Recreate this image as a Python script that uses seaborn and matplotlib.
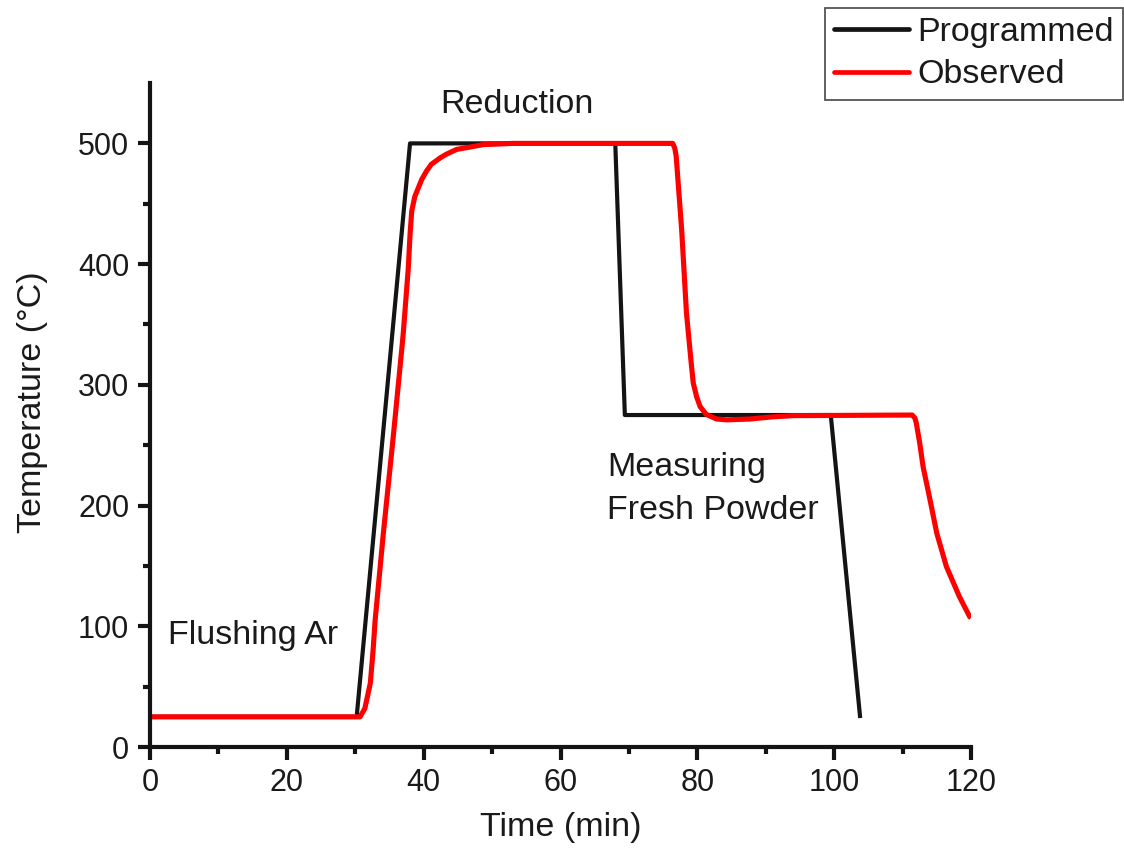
import matplotlib
matplotlib.use("Agg")
import matplotlib.pyplot as plt
import seaborn as sns
import pandas as pd

# Programmed furnace profile (time in min, temperature in °C)
programmed_time = [0, 30.2, 38.0, 68.0, 69.4, 99.5, 103.8]
programmed_temp = [25, 25, 500, 500, 275, 275, 24]

# Observed thermocouple reading
observed_time = [0, 30.7, 31.4, 32.2, 32.6, 32.9, 34.1, 35.6, 36.8, 37.0, 37.75,
                 38.0, 38.25, 38.7, 39.2, 39.7, 40.4, 41.1, 42.4, 43.3, 44.8,
                 46.8, 48.7, 53.1, 76.4, 76.7, 76.9, 77.7, 78.4, 79.1, 79.4,
                 79.9, 80.4, 81.3, 82.8, 84.3, 87.7, 91.0, 94.0, 111.4, 111.8,
                 112.0, 112.5, 113.0, 114.0, 115.0, 116.4, 118.3, 119.8, 120.0]
observed_temp = [25, 25, 32, 53, 80, 105, 177, 260, 330, 342, 397,
                 424.5, 444, 456, 463, 470, 477, 482.6, 488, 491, 495,
                 497, 499, 500, 500, 496, 489.5, 429, 360, 318, 301.5,
                 290, 282, 275.5, 271.7, 271, 271.7, 273.5, 274.5, 275, 272.5,
                 268.4, 251.8, 232, 205, 177, 149.5, 124.6, 108, 107]

series_names = ["Programmed", "Observed"]
series_colors = ["#141414", "#ff0000"]

xticks = [0, 20, 40, 60, 80, 100, 120]
yticks = [0, 100, 200, 300, 400, 500]

df = pd.concat([
    pd.DataFrame({"Time (min)": programmed_time, "Temperature (°C)": programmed_temp,
                  "series": series_names[0]}),
    pd.DataFrame({"Time (min)": observed_time, "Temperature (°C)": observed_temp,
                  "series": series_names[1]}),
], ignore_index=True)

sns.set_theme(style="ticks")
plt.rcParams["font.family"] = ["Liberation Sans", "DejaVu Sans"]
plt.rcParams["text.color"] = "#1a1a1a"

fig = plt.figure(figsize=(11.24, 8.56), dpi=100)
ax = fig.add_axes([0.1335, 0.1273, 0.8639 - 0.1335, 0.903 - 0.1273])

sns.lineplot(data=df, x="Time (min)", y="Temperature (°C)", hue="series",
             hue_order=series_names, palette=series_colors, sort=False,
             estimator=None, ax=ax, legend=False, linewidth=3.0)
ax.lines[1].set_linewidth(3.7)
for ln in ax.lines:
    ln.set_solid_joinstyle("round")
    ln.set_solid_capstyle("butt")

ax.set_xlim(0, 120)
ax.set_ylim(0, 550)
ax.set_xticks(xticks)
ax.set_yticks(yticks)
ax.set_xticks([10, 30, 50, 70, 90, 110], minor=True)
ax.set_yticks([50, 150, 250, 350, 450], minor=True)
ax.tick_params(which="major", length=9, width=3, labelsize=22,
               labelcolor="#1a1a1a", color="#141414", pad=6)
ax.tick_params(which="minor", length=5, width=3, color="#141414")
sns.despine(ax=ax)
for side in ("left", "bottom"):
    ax.spines[side].set_linewidth(3)
    ax.spines[side].set_color("#141414")

ax.set_xlabel("Time (min)", fontsize=24.5, color="#1a1a1a", labelpad=10)
ax.set_ylabel("Temperature (°C)", fontsize=24.5, color="#1a1a1a")
ax.yaxis.set_label_coords(-0.124, 0.52)

ax.text(2.6, 92, "Flushing Ar", fontsize=24.5, va="center", ha="left")
ax.text(42.4, 532, "Reduction", fontsize=24.5, va="center", ha="left")
ax.text(66.8, 214, "Measuring\nFresh Powder", fontsize=24.5, va="center",
        ha="left", linespacing=1.5)

handles = [plt.Line2D([], [], color=c, lw=3.4) for c in series_colors]
leg = fig.legend(handles, series_names, loc="upper right",
                 bbox_to_anchor=(0.9995, 0.991), fontsize=24.5,
                 frameon=True, fancybox=False, handlelength=2.2,
                 handletextpad=0.25, borderpad=0.28, labelspacing=0.33,
                 borderaxespad=0)
leg.get_frame().set_edgecolor("#2a2a2a")
leg.get_frame().set_linewidth(1.3)

fig.savefig("out.png", dpi=100)
